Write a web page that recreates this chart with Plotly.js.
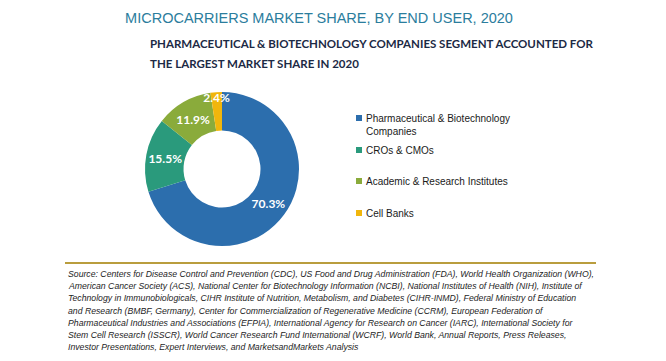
<!DOCTYPE html>
<html>
<head>
<meta charset="utf-8">
<script src="https://cdn.plot.ly/plotly-3.0.1.min.js"></script>
<style>html,body{margin:0;padding:0;background:#fff;}#chart{width:666px;height:361px;}</style>
</head>
<body>
<div id="chart"></div>
<script>
// ---- data ----
const categories = ["Pharmaceutical & Biotechnology Companies", "CROs & CMOs", "Academic & Research Institutes", "Cell Banks"];
const legendLabels = ["Pharmaceutical & Biotechnology<br>Companies", "CROs & CMOs", "Academic & Research Institutes", "Cell Banks"];
const shareValues = [70.3, 15.5, 11.9, 2.4];
const sliceColors = ["#2c6ead", "#2a9a7c", "#8aab3b", "#f1b60c"];
const titleText = "MICROCARRIERS MARKET SHARE, BY END USER, 2020";
const subtitleLines = ["PHARMACEUTICAL & BIOTECHNOLOGY COMPANIES SEGMENT ACCOUNTED FOR", "THE LARGEST MARKET SHARE IN 2020"];
const sourceLines = [
  "Source: Centers for Disease Control and Prevention (CDC), US Food and Drug Administration (FDA), World Health Organization (WHO),",
  "American Cancer Society (ACS), National Center for Biotechnology Information (NCBI), National Institutes of Health (NIH), Institute of",
  "Technology in Immunobiologicals, CIHR Institute of Nutrition, Metabolism, and Diabetes (CIHR-INMD), Federal Ministry of Education",
  "and Research (BMBF, Germany), Center for Commercialization of Regenerative Medicine (CCRM), European Federation of",
  "Pharmaceutical Industries and Associations (EFPIA), International Agency for Research on Cancer (IARC), International Society for",
  "Stem Cell Research (ISSCR), World Cancer Research Fund International (WCRF), World Bank, Annual Reports, Press Releases,",
  "Investor Presentations, Expert Interviews, and MarketsandMarkets Analysis"
];

// ---- layout helpers (pixel -> paper) ----
const W = 666, H = 361;
const px = x => x / W;
const py = y => 1 - y / H;

const annotations = [];
const shapes = [];

// subtitle
const subY = [44, 64];
subtitleLines.forEach((t, i) => annotations.push({
  text: t, xref: 'paper', yref: 'paper', x: px(148), y: py(subY[i]),
  xanchor: 'left', yanchor: 'middle', showarrow: false,
  font: {family: 'Lato, "Liberation Sans", sans-serif', size: 11.5, color: '#1c2a45', weight: 'bold'}
}));

// legend (manual)
const legY = [118, 150, 181, 213];
legendLabels.forEach((t, i) => {
  shapes.push({type: 'rect', xref: 'paper', yref: 'paper',
    x0: px(356), x1: px(362), y0: py(legY[i] + 3), y1: py(legY[i] - 3),
    fillcolor: sliceColors[i], line: {width: 0}});
  annotations.push({text: t, xref: 'paper', yref: 'paper', x: px(364), y: py(legY[i] - 7),
    xanchor: 'left', yanchor: 'top', align: 'left', showarrow: false,
    font: {family: '"Liberation Sans", Arial, sans-serif', size: 10, color: '#1a1a1a'}});
});

// separator
shapes.push({type: 'line', xref: 'paper', yref: 'paper', x0: px(65), x1: px(596), y0: py(263), y1: py(263),
  line: {color: '#b99d3e', width: 2}});

// source lines
sourceLines.forEach((t, i) => annotations.push({
  text: t, xref: 'paper', yref: 'paper', x: px(66), y: py(274 + 12.2 * i),
  xanchor: 'left', yanchor: 'middle', showarrow: false,
  font: {family: '"Liberation Sans", Arial, sans-serif', size: 8.7, color: '#1e1e1e', style: 'italic'}
}));

const trace = {
  type: 'pie',
  labels: categories,
  values: shareValues,
  marker: {colors: sliceColors, line: {width: 0}},
  hole: 0.5,
  sort: false,
  direction: 'clockwise',
  rotation: 0,
  texttemplate: '%{value:.1f}%',
  textposition: 'inside',
  insidetextorientation: 'horizontal',
  textfont: {family: 'Lato, "Liberation Sans", sans-serif', size: 12, color: '#ffffff', weight: 'bold'},
  domain: {x: [px(145), px(299)], y: [py(246), py(92)]},
  showlegend: false,
  hoverinfo: 'label+value'
};

const layout = {
  width: W, height: H,
  margin: {l: 0, r: 0, t: 0, b: 0},
  paper_bgcolor: '#ffffff',
  plot_bgcolor: '#ffffff',
  showlegend: false,
  uniformtext: {minsize: 12, mode: 'show'},
  title: {
    text: titleText, xref: 'paper', yref: 'container', x: px(319), y: py(18),
    xanchor: 'center', yanchor: 'middle',
    font: {family: '"Liberation Sans", Arial, sans-serif', size: 14.5, color: '#2b7d9d'}
  },
  annotations: annotations,
  shapes: shapes
};

Plotly.newPlot('chart', [trace], layout, {displayModeBar: false, staticPlot: true});
</script>
</body>
</html>
